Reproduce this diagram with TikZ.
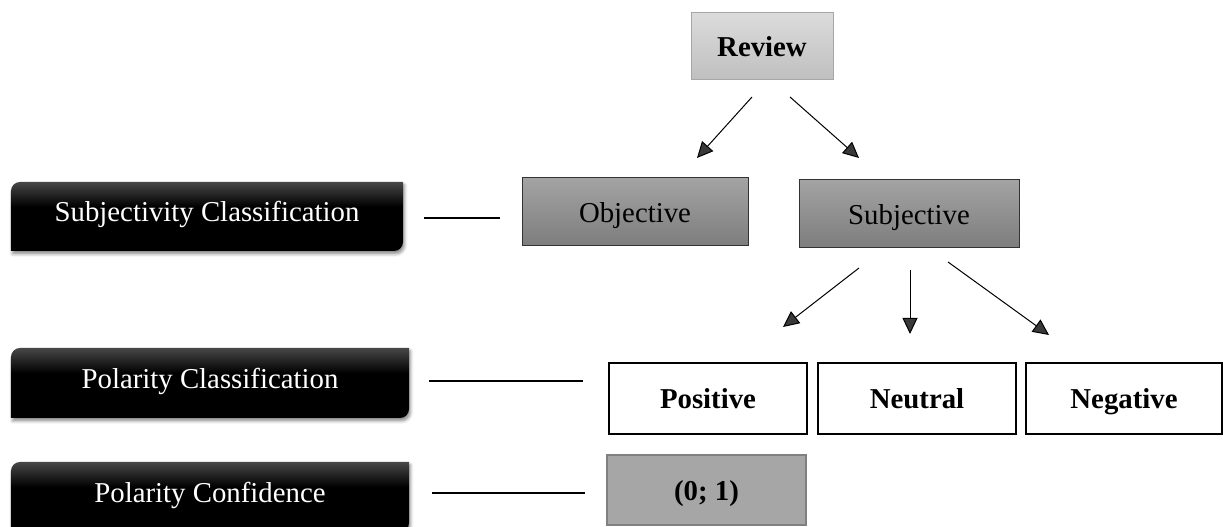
\documentclass[tikz,border=0pt]{standalone}
\usepackage{fontspec}
\setmainfont{Liberation Serif}
\usetikzlibrary{arrows.meta,shadows.blur,backgrounds}
\pgfdeclareverticalshading{blackgrad}{100bp}{color(0bp)=(black); color(57bp)=(black); color(75bp)=(black!72); color(100bp)=(black!72)}
\pgfdeclareverticalshading{midgrad}{100bp}{color(0bp)=(black!51); color(25bp)=(black!51); color(75bp)=(black!36); color(100bp)=(black!36)}
\pgfdeclareverticalshading{lightgrad}{100bp}{color(0bp)=(black!25); color(25bp)=(black!25); color(75bp)=(black!14); color(100bp)=(black!14)}
\newcommand\blackpanel[1]{%
  \shade[shading=blackgrad, blur shadow={shadow xshift=1.5bp, shadow yshift=-3bp, shadow blur radius=3bp, shadow opacity=45}]
  (#1.south west) -- ([yshift=-9bp]#1.north west) arc[start angle=180,end angle=90,radius=9bp]
  -- (#1.north east) -- ([yshift=9bp]#1.south east) arc[start angle=0,end angle=-90,radius=9bp] -- cycle;}
\tikzset{
  base/.style={inner sep=0pt, outer sep=0pt, align=center, text height=21bp, text depth=0bp, font=\fontsize{28.8bp}{34bp}\selectfont},
  reviewbox/.style={base, draw=black!35, line width=1bp, shade, shading=lightgrad, font=\fontsize{28.8bp}{34bp}\selectfont\bfseries},
  graybox/.style={base, draw=black!80, line width=1bp, shade, shading=midgrad},
  polbox/.style={base, draw=black, line width=2bp, fill=white, font=\fontsize{28.8bp}{34bp}\selectfont\bfseries},
  confbox/.style={base, draw=black!50, line width=2bp, fill=black!35, font=\fontsize{28.8bp}{34bp}\selectfont\bfseries},
  panel/.style={base, text=white, text height=19bp, text depth=8bp},
  arr/.style={line width=1bp, -{Triangle[length=16bp,width=15bp]}},
  link/.style={line width=2bp}
}
\begin{document}
\begin{tikzpicture}[x=1bp,y=1bp]
\useasboundingbox (0,0) rectangle (1223,527);
% hierarchy nodes
\node[reviewbox, minimum width=142bp, minimum height=67bp] (review) at (762,480.5) {Review};
\node[graybox, minimum width=226bp, minimum height=68bp] (obj) at (635,315) {Objective};
\node[graybox, minimum width=220bp, minimum height=68bp] (subj) at (909,313) {Subjective};
\node[polbox, minimum width=198bp, minimum height=71bp] (pos) at (708,128.5) {Positive};
\node[polbox, minimum width=198bp, minimum height=71bp] (neu) at (917,128.5) {Neutral};
\node[polbox, minimum width=196bp, minimum height=71bp] (neg) at (1124,128.5) {Negative};
\node[confbox, minimum width=199bp, minimum height=70bp] (conf) at (706.5,37) {(0; 1)};
% level labels
\node[panel, minimum width=392bp, minimum height=69bp] (sc) at (207,310.5) {Subjectivity Classification};
\node[panel, minimum width=398bp, minimum height=70bp] (pc) at (210,144) {Polarity Classification};
\node[panel, minimum width=398bp, minimum height=70bp] (pconf) at (210,30) {Polarity Confidence};
\begin{pgfonlayer}{background}
  \blackpanel{sc}
  \blackpanel{pc}
  \blackpanel{pconf}
\end{pgfonlayer}
% arrow end points
\coordinate (r1s) at (752,430); \coordinate (r1e) at (697,369);
\coordinate (r2s) at (790,430); \coordinate (r2e) at (859,369);
\coordinate (s1s) at (859,259); \coordinate (s1e) at (783,200);
\coordinate (s2s) at (910,257); \coordinate (s2e) at (910,193);
\coordinate (s3s) at (948,265); \coordinate (s3e) at (1049,192);
\draw[arr] (r1s) -- (r1e);
\draw[arr] (r2s) -- (r2e);
\draw[arr] (s1s) -- (s1e);
\draw[arr] (s2s) -- (s2e);
\draw[arr] (s3s) -- (s3e);
% level links
\coordinate (l1s) at (424,309); \coordinate (l1e) at (500,309);
\coordinate (l2s) at (429,146); \coordinate (l2e) at (583,146);
\coordinate (l3s) at (432,34); \coordinate (l3e) at (585,34);
\draw[link] (l1s) -- (l1e);
\draw[link] (l2s) -- (l2e);
\draw[link] (l3s) -- (l3e);
\end{tikzpicture}
\end{document}
